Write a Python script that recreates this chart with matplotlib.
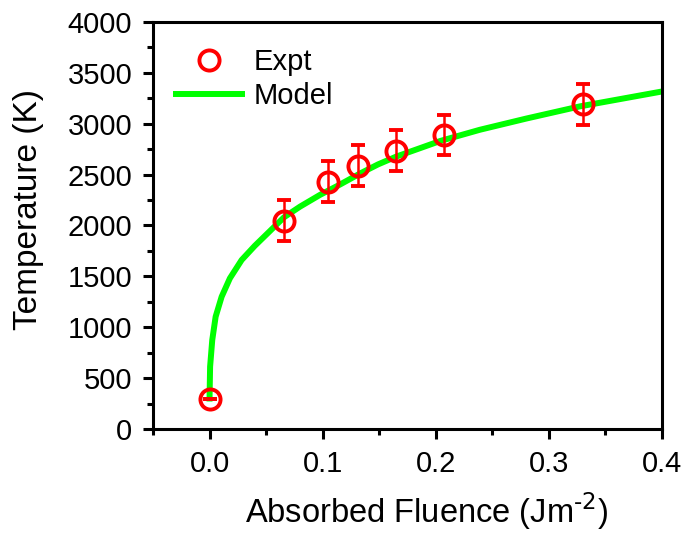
import numpy as np
import matplotlib
matplotlib.use('Agg')
import matplotlib.pyplot as plt
from matplotlib.ticker import MultipleLocator
from matplotlib.lines import Line2D

plt.rcParams['font.family'] = ['Liberation Sans', 'DejaVu Sans']

# experimental points (absorbed fluence, temperature, error)
expt_x = [0.0, 0.0658, 0.1047, 0.131, 0.165, 0.207, 0.330]
expt_T = [300, 2047, 2430, 2588, 2735, 2889, 3191]
expt_err = [0, 200, 200, 200, 200, 200, 200]

# model curve
model_x = [0, 0.0005, 0.0024, 0.0054, 0.0107, 0.018, 0.0284, 0.040, 0.052,
           0.0658, 0.080, 0.0976, 0.115, 0.133, 0.149, 0.165, 0.204, 0.239,
           0.28, 0.3275, 0.397]
model_T = [300, 613, 875, 1104, 1300, 1481, 1661, 1800, 1930,
           2080, 2185, 2300, 2400, 2510, 2600, 2676, 2830, 2940,
           3050, 3170, 3310]

red = '#ff0000'
green = '#00ff00'

fig = plt.figure(figsize=(6.86, 5.33), dpi=100)
ax = fig.add_axes([0.223, 0.195, 0.742, 0.764])

ax.plot(model_x, model_T, color=green, lw=4.3, zorder=2)
ax.errorbar(expt_x, expt_T, yerr=expt_err, fmt='o', ms=14.5, mfc='none',
            mec=red, mew=2.8, ecolor=red, elinewidth=1.8,
            capsize=5, capthick=2, zorder=3)

ax.set_xlim(-0.05, 0.4)
ax.set_ylim(0, 4000)
ax.xaxis.set_major_locator(MultipleLocator(0.1))
ax.xaxis.set_minor_locator(MultipleLocator(0.05))
ax.yaxis.set_major_locator(MultipleLocator(500))
ax.yaxis.set_minor_locator(MultipleLocator(250))
ax.xaxis.set_major_formatter(plt.FuncFormatter(lambda v, p: '%.1f' % v))

ax.tick_params(which='major', direction='out', length=7, width=2.2,
               labelsize=21, top=False, right=False)
ax.tick_params(axis='y', which='major', pad=8)
ax.tick_params(axis='x', which='major', pad=8)
ax.tick_params(which='minor', direction='out', length=4, width=2.2,
               top=False, right=False)
for s in ax.spines.values():
    s.set_linewidth(2.2)

ax.set_xlabel('Absorbed Fluence (Jm$^{\\text{-2}}$)', fontsize=23.5)
ax.xaxis.set_label_coords(0.537, -0.15)
ax.set_ylabel('Temperature (K)', fontsize=24)
ax.yaxis.set_label_coords(-0.214, 0.54)

handles = [Line2D([], [], ls='none', marker='o', ms=14.5, mfc='none',
                  mec=red, mew=2.8),
           Line2D([], [], color=green, lw=4.3)]
ax.legend(handles, ['Expt', 'Model'], loc='upper left', frameon=False,
          fontsize=21, handlelength=2.25, handletextpad=0.4,
          labelspacing=0.2, borderpad=0, borderaxespad=0,
          bbox_to_anchor=(0.045, 0.935))

fig.savefig('out.png', dpi=100)
